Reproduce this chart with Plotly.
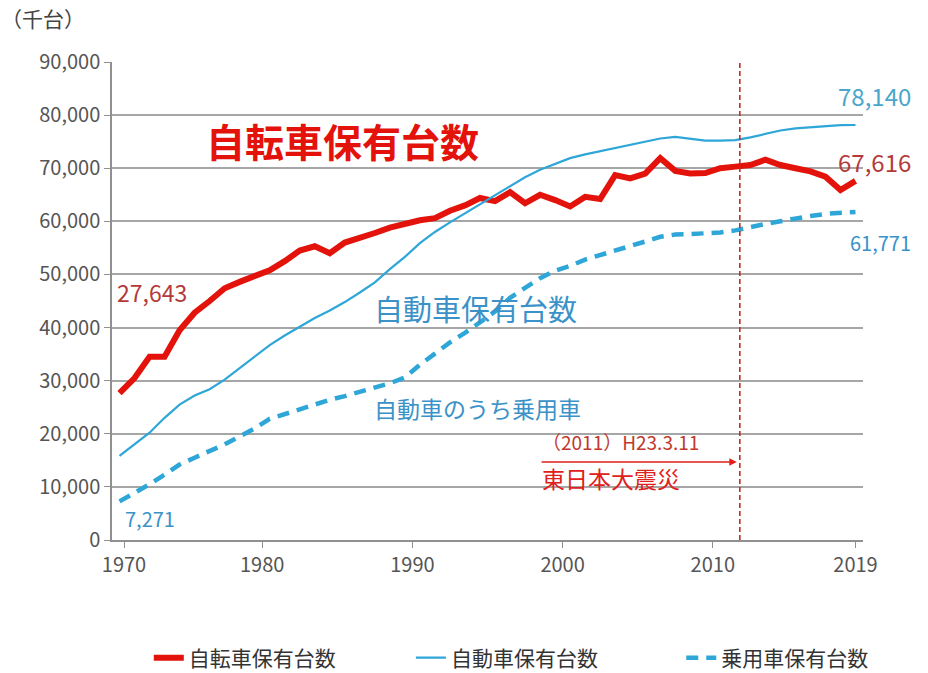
import plotly.graph_objects as go

years = list(range(1970, 2020))

bicycles = [27.643, 30.5, 34.5, 34.5, 39.5, 42.8, 45.0, 47.4, 48.6, 49.8,
            50.8, 52.5, 54.5, 55.3, 54.0, 56.0, 56.8, 57.8, 58.8, 59.6,
            60.2, 60.6, 62.0, 63.0, 64.4, 63.8, 65.5, 63.4, 65.0, 64.0,
            62.8, 64.6, 64.2, 68.7, 68.1, 69.0, 71.9, 69.5, 69.0, 69.1,
            70.0, 70.3, 70.6, 71.6, 70.6, 70.0, 69.4, 68.4, 65.9, 67.616]

cars = [15.835, 18.0, 20.2, 23.0, 25.5, 27.2, 28.4, 30.2, 32.4, 34.5,
        36.7, 38.5, 40.2, 41.8, 43.2, 44.8, 46.6, 48.5, 51.0, 53.3,
        55.9, 58.0, 59.8, 61.5, 63.3, 65.0, 66.7, 68.3, 69.7, 70.8,
        71.9, 72.6, 73.2, 73.7, 74.3, 75.0, 75.6, 75.9, 75.5, 75.2,
        75.2, 75.3, 75.8, 76.5, 77.1, 77.5, 77.7, 78.0, 78.1, 78.140]

passenger = [7.271, 8.8, 10.5, 12.3, 14.2, 15.5, 16.7, 18.0, 19.5, 21.0,
             22.8, 23.7, 24.6, 25.6, 26.4, 27.1, 27.9, 28.8, 29.5, 30.6,
             33.0, 35.1, 37.2, 39.0, 41.0, 43.0, 45.6, 47.5, 49.3, 50.7,
             51.6, 52.8, 53.6, 54.5, 55.2, 56.2, 57.1, 57.5, 57.6, 57.7,
             57.9, 58.3, 59.0, 59.5, 60.0, 60.6, 61.0, 61.4, 61.6, 61.771]

# values in thousand units (千台)
bicycles = [v * 1000 for v in bicycles]
cars = [v * 1000 for v in cars]
passenger = [v * 1000 for v in passenger]

y_ticks = list(range(0, 90001, 10000))
x_tick_vals = [1970.3, 1979.5, 1989.5, 1999.5, 2009.5, 2019.0]
x_tick_text = ["1970", "1980", "1990", "2000", "2010", "2019"]

series_names = ["自転車保有台数", "自動車保有台数", "乗用車保有台数"]

FONT = "Noto Sans CJK JP"
RED = "#e3120b"
BLUE = "#2ea6d8"
DARKRED = "#b33a3a"
TXTBLUE = "#3a92c8"

fig = go.Figure()
fig.add_trace(go.Scatter(x=years, y=bicycles, mode="lines", name=series_names[0],
                         line=dict(color=RED, width=6), legend="legend"))
fig.add_trace(go.Scatter(x=years, y=cars, mode="lines", name=series_names[1],
                         line=dict(color=BLUE, width=2.2), legend="legend2"))
fig.add_trace(go.Scatter(x=years, y=passenger, mode="lines", name=series_names[2],
                         line=dict(color=BLUE, width=4.5, dash="12px,8px"), legend="legend3"))

# earthquake marker line
fig.add_shape(type="line", xref="x", yref="y", x0=2011.3, x1=2011.3, y0=0, y1=90000,
              line=dict(color="#b8302a", width=1.6, dash="5px,3px"))

ann = []
def txt(x, y, s, size, color, bold=False, xref="x", yref="y"):
    ann.append(dict(x=x, y=y, xref=xref, yref=yref, text=("<b>%s</b>" % s) if bold else s,
                    showarrow=False, xanchor="left", yanchor="middle",
                    font=dict(family=FONT, size=size, color=color)))

txt(1975.6, 75300, "自転車保有台数", 39, RED, bold=True)
txt(1969.7, 46700, "27,643", 23, DARKRED)
txt(1968.4, 25200, "15,835", 23, TXTBLUE)
txt(1970.2, 4100, "7,271", 20, TXTBLUE)
txt(2017.7, 83600, "78,140", 24, "#4aa6cc")
txt(2017.7, 71200, "67,616", 24, DARKRED)
txt(2018.5, 56100, "61,771", 20, TXTBLUE)
txt(1986.8, 43700, "自動車保有台数", 29, TXTBLUE)
txt(1986.8, 24900, "自動車のうち乗用車", 23, TXTBLUE)
txt(1998.0, 18600, "（2011）H23.3.11", 19, "#c0392b")
txt(1998.0, 11600, "東日本大震災", 23, "#e0201a")
txt(-0.15, 1.092, "（千台）", 21, "#444444", xref="paper", yref="paper")

ann.append(dict(x=2011.1, y=14700, ax=1998.0, ay=14700, xref="x", yref="y",
                axref="x", ayref="y", showarrow=True, arrowhead=2, arrowsize=1,
                arrowwidth=1.5, arrowcolor="#e0201a", text=""))

leg_common = dict(orientation="h", xanchor="left", y=-0.247, yanchor="middle",
                  font=dict(family=FONT, size=21, color="#333333"),
                  itemwidth=30, bgcolor="rgba(0,0,0,0)")

fig.update_layout(
    width=928, height=673,
    margin=dict(l=112, r=65, t=62, b=133, autoexpand=False),
    paper_bgcolor="white", plot_bgcolor="white",
    font=dict(family=FONT, size=19, color="#555555"),
    annotations=ann,
    showlegend=True,
    legend=dict(x=0.049, **leg_common),
    legend2=dict(x=0.398, **leg_common),
    legend3=dict(x=0.758, **leg_common),
)
fig.update_xaxes(range=[1969.5, 2019.5], tickmode="array", tickvals=x_tick_vals,
                 ticktext=x_tick_text, showgrid=False, showline=True,
                 linecolor="#909090", linewidth=1.5, ticks="outside", ticklen=6,
                 tickcolor="#909090", tickfont=dict(size=20, color="#555555"),
                 zeroline=False)
fig.update_yaxes(range=[0, 90000], tickmode="array", tickvals=y_ticks,
                 ticktext=[f"{v:,}" for v in y_ticks], showgrid=True,
                 gridcolor="#a6a6a6", gridwidth=1.5, showline=True,
                 linecolor="#909090", linewidth=1.5, ticks="outside", ticklen=6,
                 tickcolor="#909090", tickfont=dict(size=20, color="#555555"),
                 zeroline=False)

fig.write_html("out.html", config={"displayModeBar": False},
               post_script="document.body.style.margin='0';document.body.style.overflow='hidden';")
